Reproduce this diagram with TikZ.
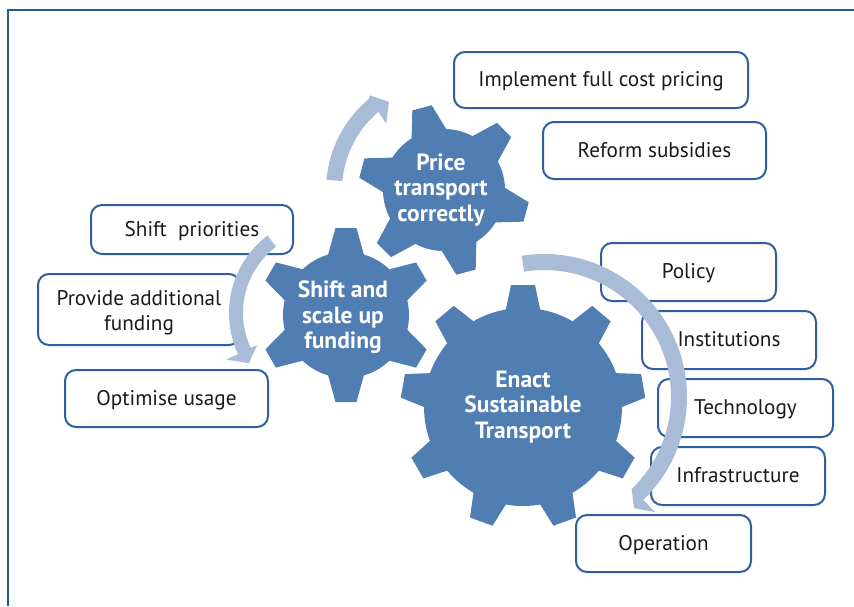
\documentclass[tikz,border=0pt]{standalone}
\usepackage{fontspec}
\setmainfont{PT Sans}
\usepackage{xcolor}
\usepackage{tikz}
\usetikzlibrary{calc}
\definecolor{frameblue}{HTML}{1D5E99}
\definecolor{boxblue}{HTML}{2F5F9F}
\definecolor{gearblue}{HTML}{517EB2}
\definecolor{sweepblue}{HTML}{A9BCD7}
\definecolor{ink}{HTML}{1A1A1A}
\tikzset{
  framing/.style={line width=1.5pt, draw=frameblue},
  tagbox/.style={draw=boxblue, line width=2pt, fill=white, rounded corners=11pt, align=center, text=ink, inner sep=0pt, font=\fontsize{21.2}{25}\selectfont},
  oneline/.style={text height=18pt, text depth=5pt},
  gearlabel/.style={align=center, text=white, inner sep=0pt, font=\fontsize{23.5}{25.5}\selectfont\bfseries},
  sweep/.style={fill=sweepblue},
  cog/.style={fill=gearblue}
}
\newcommand{\DrawGear}[8]{% cx,cy,body radius,tip radius,teeth,phase,half base,half tip
  \begin{scope}[shift={(#1,#2)}]
    \fill[cog] (0,0) circle (#3);
    \foreach \k in {1,...,#5}
      \fill[cog, rotate={#6+360*\k/#5}] (#3-3,-#7) -- (#4,-#8) -- (#4,#8) -- (#3-3,#7) -- cycle;
  \end{scope}
}
\begin{document}
\begin{tikzpicture}[x=1pt, y=1pt]
  \useasboundingbox (0,-606) rectangle (854,0);
  \fill[white] (0,-606) rectangle (854,0);
  \draw[framing] (8,-606) -- (8,-10) -- (854,-10);

  % gears
  \DrawGear{444}{-190}{61}{85}{6}{45}{18}{10}
  \DrawGear{346}{-315}{63}{87}{6}{30}{18}{10.5}
  \DrawGear{523}{-407}{99}{122}{9}{90}{17.5}{12}
  \node[gearlabel] (price) at (441,-189.8) {Price\\transport\\correctly};
  \node[gearlabel] (shift) at (343,-317.5) {Shift and\\scale up\\funding};
  \node[gearlabel] (enact) at (523,-407) {Enact\\Sustainable\\Transport};

  % boxes
  \node[tagbox, oneline, minimum width=294pt, minimum height=56pt] (pricing) at (601,-80) {Implement full cost pricing};
  \node[tagbox, oneline, minimum width=223pt, minimum height=57pt] (subsidies) at (654.5,-150.5) {Reform subsidies};
  \node[tagbox, oneline, minimum width=202pt, minimum height=49pt] (priorities) at (192,-229.5) {Shift\ \ priorities};
  \node[tagbox, minimum width=202pt, minimum height=71pt] (funding) at (139,-309.5) {\rule{0pt}{21pt}Provide additional\\funding};
  \node[tagbox, oneline, minimum width=203pt, minimum height=57pt] (usage) at (166.5,-398.5) {Optimise usage};
  \node[tagbox, oneline, minimum width=175pt, minimum height=58pt] (policy) at (688.5,-272) {Policy};
  \node[tagbox, oneline, minimum width=174pt, minimum height=58pt] (institutions) at (729,-340) {Institutions};
  \node[tagbox, oneline, minimum width=175pt, minimum height=58pt] (technology) at (745.5,-408) {Technology};
  \node[tagbox, oneline, minimum width=174pt, minimum height=58pt] (infrastructure) at (738,-476) {Infrastructure};
  \node[tagbox, oneline, minimum width=175pt, minimum height=57pt] (operation) at (663.5,-543.5) {Operation};

  % curved arrows
  \fill[sweep] (444,-190) ++(175:118) arc (175:130:118)
    -- ($(444,-190)+(128:120)$) -- ($(444,-190)+(122:104)$) -- ($(444,-190)+(131:88)$)
    -- ($(444,-190)+(130:102)$) arc (130:175:102) -- cycle;
  \fill[sweep] (326,-313) ++(127:97) arc (127:205:97)
    -- ($(326,-313)+(205:110)$) -- ($(326,-313)+(213:92)$) -- ($(326,-313)+(205:76)$)
    -- ($(326,-313)+(205:83)$) arc (205:127:83) -- cycle;
  \fill[sweep] (544,-397) ++(99:143) arc (99:-46:143)
    -- ($(544,-397)+(-46:160)$) -- ($(544,-397)+(-51:143)$) -- ($(544,-397)+(-46:126)$)
    -- ($(544,-397)+(-46:127)$) arc (-46:99:127) -- cycle;
\end{tikzpicture}
\end{document}
